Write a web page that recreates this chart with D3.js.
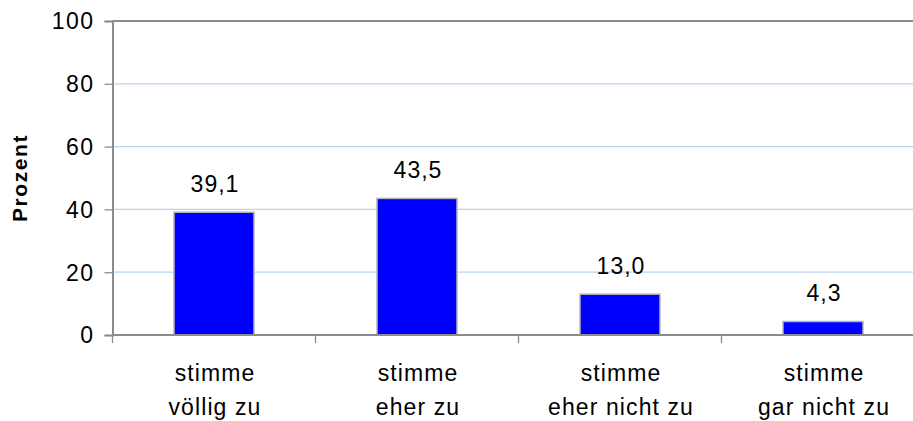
<!DOCTYPE html>
<html>
<head>
<meta charset="utf-8">
<script src="https://cdn.jsdelivr.net/npm/d3@7"></script>
<style>
  html, body { margin: 0; padding: 0; background: #fff; overflow: hidden; }
  svg { display: block; }
  text { font-family: "Liberation Sans", Arial, sans-serif; fill: #000; }
</style>
</head>
<body>
<svg id="chart" width="913" height="421"></svg>
<script>
// Antworten auf die Aussage, Anteil in Prozent
const categories = [["stimme", "völlig zu"], ["stimme", "eher zu"], ["stimme", "eher nicht zu"], ["stimme", "gar nicht zu"]];
const values = [39.1, 43.5, 13.0, 4.3];
const yTicks = [0, 20, 40, 60, 80, 100];
const yLabel = "Prozent";

(function () {
const svg = d3.select("#chart");
const plotLeft = 112.5, plotTop = 21, plotBottom = 335;
const step = 203;
const plotRight = plotLeft + step * categories.length;

const x = d3.scaleBand()
  .domain(d3.range(categories.length))
  .range([plotLeft, plotRight])
  .paddingInner(0.606)
  .paddingOuter(0.303);

const y = d3.scaleLinear().domain([0, 100]).range([plotBottom, plotTop]);

const fmt = v => d3.format(".1f")(v).replace(".", ",");
const axisGrey = "#8c8c8c";

// Gitterlinien
svg.append("g")
  .selectAll("line")
  .data(yTicks.filter(t => t > 0 && t < 100))
  .join("line")
  .attr("x1", plotLeft).attr("x2", plotRight)
  .attr("y1", d => y(d)).attr("y2", d => y(d))
  .attr("stroke", "#b7d4f4").attr("stroke-width", 1.3);

// oberer Rahmen
svg.append("line")
  .attr("x1", plotLeft).attr("x2", plotRight)
  .attr("y1", y(100)).attr("y2", y(100))
  .attr("stroke", axisGrey).attr("stroke-width", 2);

// Balken
svg.append("g")
  .selectAll("rect")
  .data(values)
  .join("rect")
  .attr("x", (d, i) => x(i))
  .attr("width", x.bandwidth())
  .attr("y", d => y(d))
  .attr("height", d => y(0) - y(d))
  .attr("fill", "#0000ff")
  .attr("stroke", "#b4b4b4")
  .attr("stroke-width", 1.5);

// Y-Achse
const yAxis = d3.axisLeft(y).tickValues(yTicks).tickSize(8).tickPadding(10).tickFormat(d3.format("d"));
const gy = svg.append("g").attr("transform", `translate(${plotLeft},0)`).call(yAxis);
gy.select(".domain").attr("stroke", axisGrey).attr("stroke-width", 2);
gy.selectAll(".tick line").attr("stroke", axisGrey).attr("stroke-width", 1.3);
gy.selectAll(".tick text")
  .attr("font-size", 23)
  .attr("letter-spacing", 1.5)
  .attr("font-family", "Liberation Sans, Arial, sans-serif")
  .attr("dy", "0.34em");

// X-Achse mit Trennstrichen zwischen den Kategorien
svg.append("line")
  .attr("x1", plotLeft).attr("x2", plotRight)
  .attr("y1", plotBottom).attr("y2", plotBottom)
  .attr("stroke", axisGrey).attr("stroke-width", 2);
const sep = d3.scaleLinear().domain([0, categories.length]).range([plotLeft, plotRight]);
svg.append("g")
  .selectAll("line")
  .data(d3.range(categories.length + 1))
  .join("line")
  .attr("x1", d => sep(d)).attr("x2", d => sep(d))
  .attr("y1", plotBottom).attr("y2", plotBottom + 8)
  .attr("stroke", axisGrey).attr("stroke-width", 1.3);

// Kategorienbeschriftung
const catG = svg.append("g")
  .selectAll("text")
  .data(categories)
  .join("text")
  .attr("text-anchor", "middle")
  .attr("font-size", 23)
  .attr("letter-spacing", 1.1)
  .attr("transform", (d, i) => `translate(${x(i) + x.bandwidth() / 2 + 1},0)`);
catG.selectAll("tspan")
  .data(d => d)
  .join("tspan")
  .attr("x", 0)
  .attr("y", (d, j) => 381 + j * 33.5)
  .text(d => d);

// Wertebeschriftung
svg.append("g")
  .selectAll("text")
  .data(values)
  .join("text")
  .attr("x", (d, i) => x(i) + x.bandwidth() / 2 + 1)
  .attr("y", d => y(d) - 20)
  .attr("text-anchor", "middle")
  .attr("font-size", 23)
  .attr("letter-spacing", 1)
  .text(d => fmt(d));

// Achsentitel
svg.append("text")
  .attr("transform", `translate(26.5,${(plotTop + plotBottom) / 2}) rotate(-90)`)
  .attr("text-anchor", "middle")
  .attr("font-size", 21)
  .attr("letter-spacing", 1.6)
  .attr("font-weight", "bold")
  .text(yLabel);
})();
</script>
</body>
</html>
